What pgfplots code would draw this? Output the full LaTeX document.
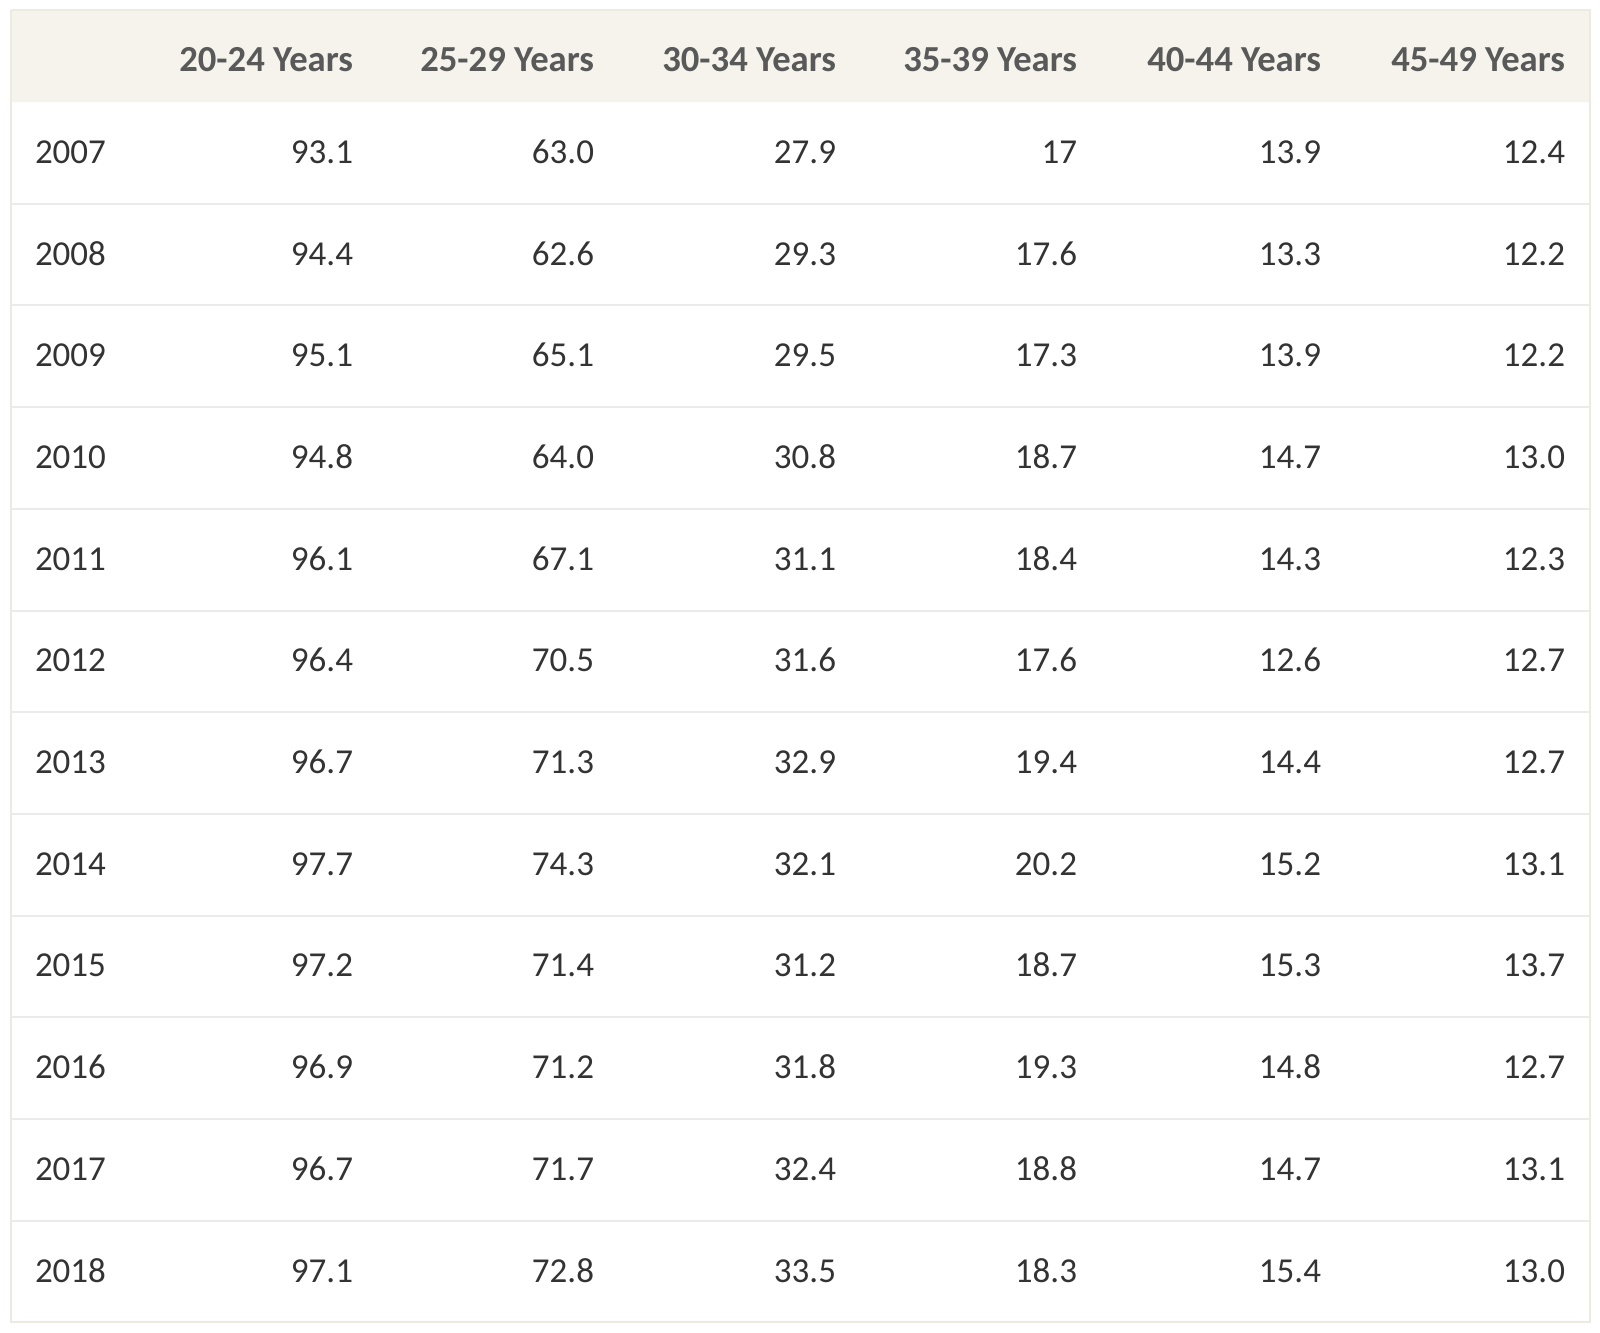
\documentclass[border=0pt]{standalone}
\usepackage{fontspec}
\setmainfont{Carlito}
\usepackage{pgfplots}
\usepackage{pgfplotstable}
\pgfplotsset{compat=1.18}
\definecolor{hdrbg}{HTML}{F5F3EC}
\definecolor{border}{HTML}{EDEAE1}
\definecolor{sep}{HTML}{EBEBEB}
\definecolor{hdrtxt}{HTML}{595959}
\definecolor{bodytxt}{HTML}{333333}

\pgfplotstableread{
year a b c d e f
2007 93.1 63.0 27.9 17 13.9 12.4
2008 94.4 62.6 29.3 17.6 13.3 12.2
2009 95.1 65.1 29.5 17.3 13.9 12.2
2010 94.8 64.0 30.8 18.7 14.7 13.0
2011 96.1 67.1 31.1 18.4 14.3 12.3
2012 96.4 70.5 31.6 17.6 12.6 12.7
2013 96.7 71.3 32.9 19.4 14.4 12.7
2014 97.7 74.3 32.1 20.2 15.2 13.1
2015 97.2 71.4 31.2 18.7 15.3 13.7
2016 96.9 71.2 31.8 19.3 14.8 12.7
2017 96.7 71.7 32.4 18.8 14.7 13.1
2018 97.1 72.8 33.5 18.3 15.4 13.0
}\data

\pgfplotstableread[col sep=comma]{
x,label
353,20-24 Years
594,25-29 Years
836,30-34 Years
1077,35-39 Years
1321,40-44 Years
1565,45-49 Years
}\header

\begin{document}
\begin{tikzpicture}
\begin{axis}[
  width=480pt, height=399.6pt, scale only axis,
  xmin=0, xmax=1600, ymin=0, ymax=1332, y dir=reverse,
  hide axis, clip=false,
  point meta=explicit symbolic,
  nodes near coords align=center,
  every node near coord/.append style={inner sep=0pt, outer sep=0pt},
  body/.style={draw=none, mark=none, nodes near coords,
    every node near coord/.append style={anchor=base east, text=bodytxt, font=\fontsize{10.5}{12.5}\selectfont}},
  sepline/.style={draw=sep, line width=0.6pt, mark=none},
]
% background
\addplot[fill=white, draw=none, mark=none] coordinates {(0,0) (1600,0) (1600,1332) (0,1332) (0,0)};
% header band
\addplot[fill=hdrbg, draw=none, mark=none] coordinates {(11,10) (1590,10) (1590,102) (11,102) (11,10)};
% row separators
\addplot[sepline] coordinates {(11,203.7) (1590,203.7)};
\addplot[sepline] coordinates {(11,305.4) (1590,305.4)};
\addplot[sepline] coordinates {(11,407.1) (1590,407.1)};
\addplot[sepline] coordinates {(11,508.8) (1590,508.8)};
\addplot[sepline] coordinates {(11,610.5) (1590,610.5)};
\addplot[sepline] coordinates {(11,712.2) (1590,712.2)};
\addplot[sepline] coordinates {(11,813.9) (1590,813.9)};
\addplot[sepline] coordinates {(11,915.6) (1590,915.6)};
\addplot[sepline] coordinates {(11,1017.3) (1590,1017.3)};
\addplot[sepline] coordinates {(11,1119.0) (1590,1119.0)};
\addplot[sepline] coordinates {(11,1220.7) (1590,1220.7)};
% outer border
\addplot[draw=border, line width=0.6pt, mark=none] coordinates {(11,10) (1590,10) (1590,1322) (11,1322) (11,10)};
% header labels
\addplot[draw=none, mark=none, nodes near coords,
  every node near coord/.append style={anchor=base east, text=hdrtxt, font=\fontsize{11}{13}\selectfont\bfseries}]
  table[x=x, y expr=71, meta=label] {\header};
% years
\addplot[draw=none, mark=none, nodes near coords,
  every node near coord/.append style={anchor=base west, text=bodytxt, font=\fontsize{10.5}{12.5}\selectfont}]
  table[x expr=35, y expr={163.3+101.7*\coordindex}, meta=year] {\data};
% values
\addplot[body] table[x expr=353, y expr={163.3+101.7*\coordindex}, meta=a] {\data};
\addplot[body] table[x expr=594, y expr={163.3+101.7*\coordindex}, meta=b] {\data};
\addplot[body] table[x expr=836, y expr={163.3+101.7*\coordindex}, meta=c] {\data};
\addplot[body] table[x expr=1077, y expr={163.3+101.7*\coordindex}, meta=d] {\data};
\addplot[body] table[x expr=1321, y expr={163.3+101.7*\coordindex}, meta=e] {\data};
\addplot[body] table[x expr=1565, y expr={163.3+101.7*\coordindex}, meta=f] {\data};
\end{axis}
\end{tikzpicture}
\end{document}
